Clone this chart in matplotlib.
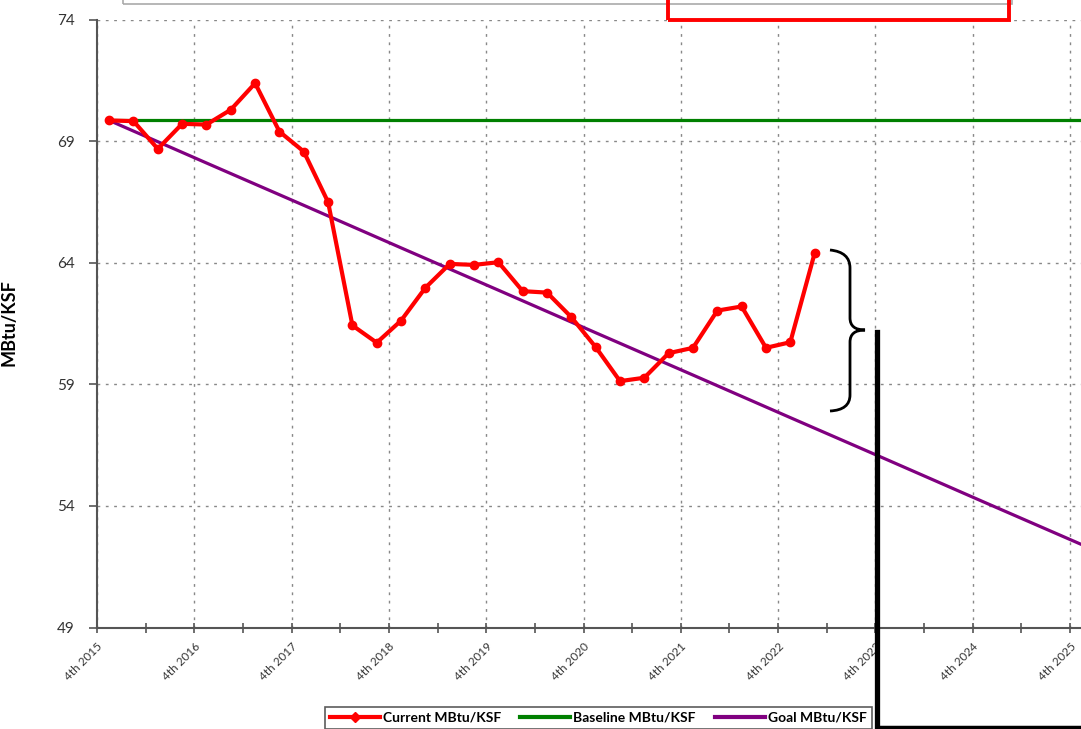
import matplotlib
matplotlib.use("Agg")
import matplotlib.pyplot as plt
import numpy as np
from matplotlib.path import Path
import matplotlib.patches as mpatches
from matplotlib.lines import Line2D

plt.rcParams['font.family'] = ['Lato', 'DejaVu Sans']

# quarterly readings, first point = 4th quarter 2015
current = [69.85, 69.82, 68.68, 69.71, 69.68, 70.29, 71.38, 69.39, 68.57, 66.49,
           61.42, 60.71, 61.62, 62.97, 63.95, 63.91, 64.02, 62.83, 62.77, 61.76,
           60.53, 59.13, 59.27, 60.28, 60.50, 62.03, 62.20, 60.50, 60.73, 64.39]
baseline = 69.85
# goal read at each 4th quarter, 2015 .. 2025
goal = [69.85, 68.10, 66.36, 64.61, 62.87, 61.12, 59.38, 57.63, 55.89, 54.14, 52.40]
tick_labels = ["4th 2015", "4th 2016", "4th 2017", "4th 2018", "4th 2019", "4th 2020",
               "4th 2021", "4th 2022", "4th 2023", "4th 2024", "4th 2025"]
y_ticks = [49, 54, 59, 64, 69, 74]

W, H = 1081, 729
fig = plt.figure(figsize=(W / 100, H / 100), dpi=100)
ax = fig.add_axes([97 / W, 1 - 627.5 / H, 984 / W, 608 / H])

def px(x, y):
    # figure pixel (from top-left) -> figure fraction
    return x / W, 1 - y / H

xq = np.arange(len(current)) + 0.5
xg = np.arange(len(goal)) * 4 + 0.5

ax.plot(xq, current, color="red", lw=3, marker="o", ms=6, zorder=4,
        solid_joinstyle="round", label="Current MBtu/KSF")
ax.plot([0.5, 40.5], [baseline, baseline], color="#008000", lw=2.3, zorder=3,
        label="Baseline MBtu/KSF")
ax.plot(xg, goal, color="#800080", lw=2.3, zorder=3, label="Goal MBtu/KSF")

ax.set_xlim(0, 40.45)
ax.set_ylim(49, 74)
ax.set_xticks(np.arange(len(tick_labels)) * 4)
ax.set_xticks(np.arange(len(tick_labels) - 1) * 4 + 2, minor=True)
ax.set_xticklabels(tick_labels, rotation=45, ha="right", va="top",
                   rotation_mode="anchor", fontsize=8.5, color="#333333")
ax.set_yticks(y_ticks)
ax.set_yticklabels([str(v) for v in y_ticks], fontsize=11, color="#333333")
ax.tick_params(axis="x", which="both", direction="inout", length=7, width=1.2,
               color="#555555", pad=6)
ax.tick_params(axis="y", direction="out", length=6, width=1.2, color="#555555", pad=10)

ax.grid(True, axis="both", color="#888888", lw=1, linestyle=(0, (2, 4)))
ax.set_axisbelow(True)
for s in ["top", "right"]:
    ax.spines[s].set_visible(False)
for s in ["left", "bottom"]:
    ax.spines[s].set_color("#555555")
    ax.spines[s].set_linewidth(1.5)

ax.set_ylabel("MBtu/KSF", fontsize=13, fontweight="bold")
ax.yaxis.set_label_coords(-0.081, 0.502)

# legend at bottom, clipped by the figure edge
handles = [Line2D([], [], color="red", lw=3, marker="D", ms=5),
           Line2D([], [], color="#008000", lw=3),
           Line2D([], [], color="#800080", lw=3)]
leg = fig.legend(handles, ["Current MBtu/KSF", "Baseline MBtu/KSF", "Goal MBtu/KSF"],
                 loc="upper left", bbox_to_anchor=px(325, 707), ncol=3,
                 frameon=True, fancybox=False, edgecolor="#333333",
                 prop={"weight": "bold", "size": 10}, handlelength=3.6,
                 handletextpad=0.2, columnspacing=1.4, borderpad=0.35,
                 borderaxespad=0)
leg.get_frame().set_linewidth(1.2)

# top title box edge and red highlight box (cut off by the top edge)
fig.add_artist(mpatches.Rectangle(px(123, 4), 889 / W, 20 / H, fill=False,
                                  ec="#aaaaaa", lw=1.2, transform=fig.transFigure))
fig.add_artist(mpatches.Rectangle(px(668, 20), 341 / W, 30 / H, fill=False,
                                  ec="red", lw=2.8, transform=fig.transFigure))

# curly brace
verts = [px(830, 250), px(850, 252), px(850, 268), px(850, 318), px(850, 330),
         px(865, 330), px(850, 330), px(850, 342), px(850, 395), px(850, 410),
         px(830, 411)]
codes = [Path.MOVETO, Path.CURVE3, Path.CURVE3, Path.LINETO, Path.CURVE3,
         Path.CURVE3, Path.CURVE3, Path.CURVE3, Path.LINETO, Path.CURVE3, Path.CURVE3]
fig.add_artist(mpatches.PathPatch(Path(verts, codes), fill=False, ec="black",
                                  lw=2, transform=fig.transFigure))

# black callout lines
fig.add_artist(Line2D([px(877, 0)[0]] * 2, [px(0, 332)[1], px(0, 735)[1]],
                      color="black", lw=3.8, transform=fig.transFigure))
fig.add_artist(Line2D([px(877, 0)[0], px(1090, 0)[0]], [px(0, 727)[1]] * 2,
                      color="black", lw=2.5, transform=fig.transFigure))

fig.savefig("out.png", dpi=100)
